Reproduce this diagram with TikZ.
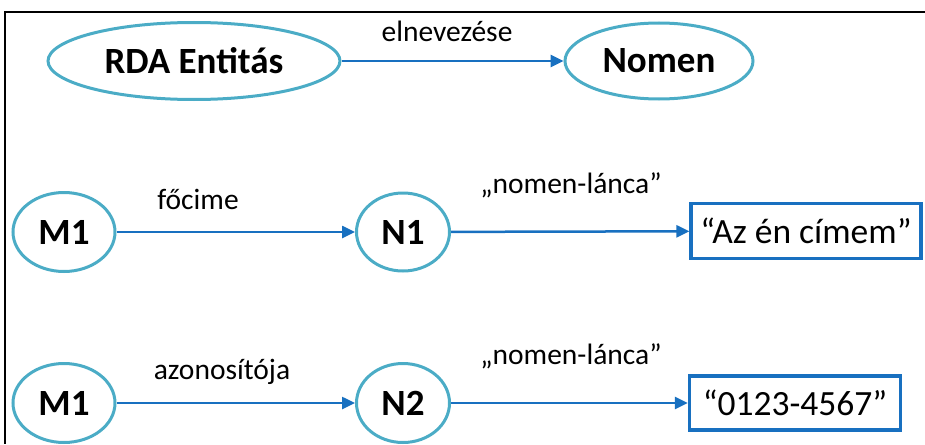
\documentclass[tikz,border=0pt]{standalone}
\usepackage{fontspec}
\setmainfont{Carlito}
\usetikzlibrary{shapes.geometric,arrows.meta}
\definecolor{ovalblue}{RGB}{75,172,198}
\definecolor{linkblue}{RGB}{24,112,192}
\tikzset{x=1pt, y=-1pt,
    entity/.style={ellipse, draw=ovalblue, line width=3pt, inner sep=0pt,
        font=\fontsize{37}{44}\selectfont\bfseries},
    literal/.style={rectangle, draw=linkblue, line width=3.2pt, inner sep=0pt,
        font=\fontsize{35.5}{42}\selectfont},
    rel/.style={font=\fontsize{29.5}{35}\selectfont, inner sep=0pt},
    link/.style={draw=linkblue, line width=2.5pt,
        -{Triangle[length=13pt,width=12pt]}},
    }

\begin{document}
\begin{tikzpicture}
	\useasboundingbox (0,0) rectangle (925,444);
	\draw[line width=1.6pt] (925,12) -- (5,12) -- (5,444);
	% RDA Entitas -> Nomen
	\node[entity, minimum width=292pt, minimum height=77pt] (rda) at (194,61) {RDA Entitás};
	\node[entity, minimum width=188pt, minimum height=76pt] (nomen) at (659,61) {Nomen};
	\node[rel] (elnev) at (447,31) {elnevezése};
	\draw[link] (rda) -- (nomen);
	% M1 -> N1 -> cim
	\node[entity, minimum width=102pt, minimum height=79pt] (mA) at (64,232) {M1};
	\node[entity, minimum width=93pt, minimum height=78pt] (nA) at (403,232) {N1};
	\node[literal, minimum width=230pt, minimum height=55pt] (cim) at (806,231) {“Az én címem”};
	\node[rel] (focim) at (198,199) {főcime};
	\node[rel] (lancA) at (571,185) {„nomen-lánca”};
	\draw[link] (mA) -- (nA);
	\draw[link] (nA) -- (cim);
	% M1 -> N2 -> azonosito
	\node[entity, minimum width=102pt, minimum height=79pt] (mB) at (64,403) {M1};
	\node[entity, minimum width=93pt, minimum height=79pt] (nB) at (403,403) {N2};
	\node[literal, minimum width=211pt, minimum height=54pt] (azon) at (795,403) {“0123-4567”};
	\node[rel] (azonos) at (222,372) {azonosítója};
	\node[rel] (lancB) at (571,356) {„nomen-lánca”};
	\draw[link] (mB) -- (nB);
	\draw[link] (nB) -- (azon);
\end{tikzpicture}
\end{document}
